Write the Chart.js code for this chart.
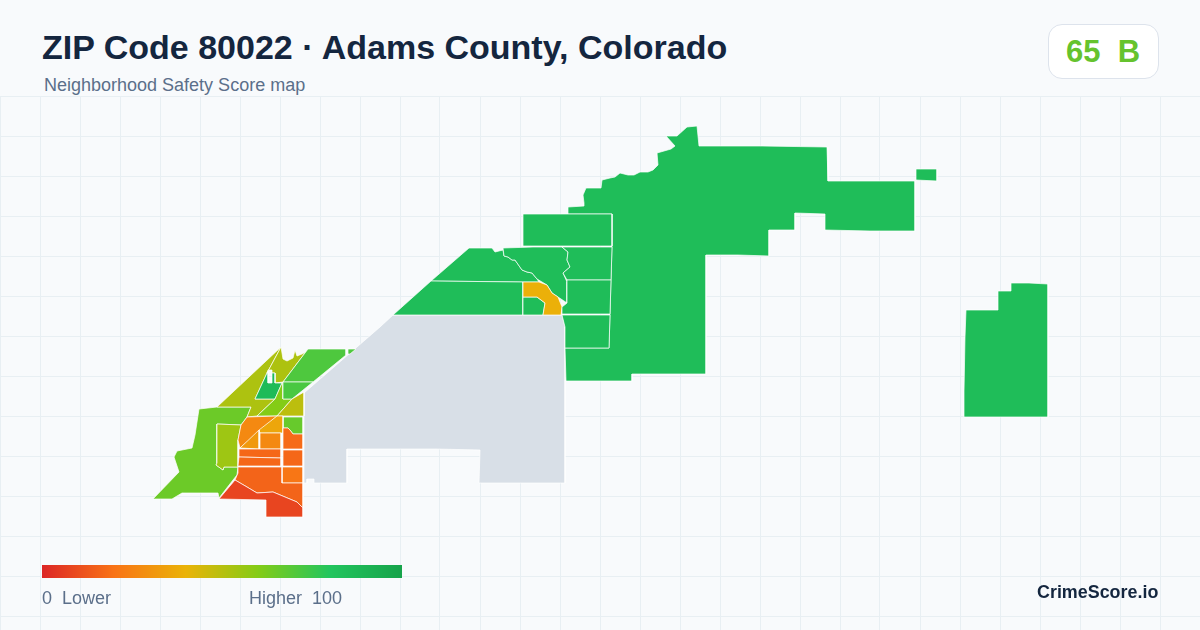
<!DOCTYPE html>
<html>
<head>
<meta charset="utf-8">
<script src="https://cdn.jsdelivr.net/npm/chart.js@4"></script>
<style>
  html, body { margin: 0; padding: 0; background: #f8fafc; }
  body { width: 1200px; height: 630px; position: relative; overflow: hidden; font-family: "Liberation Sans", Arial, sans-serif; }
  canvas { position: absolute; left: 0; top: 96px; }
  .txt { position: absolute; white-space: pre; line-height: 1; }
  #title { left: 42px; top: 30px; font-size: 34px; font-weight: bold; color: #14263f; }
  #subtitle { left: 44px; top: 76px; font-size: 18px; color: #5b6f8a; }
  #badge { position: absolute; left: 1048px; top: 24px; width: 109px; height: 53px; background: #fff; border: 1px solid #dde3ec; border-radius: 14px; }
  #grade { left: 1066px; top: 36px; font-size: 31px; font-weight: bold; color: #65c32e; }
  #scaleBar { position: absolute; left: 42px; top: 565px; width: 360px; height: 13px; }
  #low { left: 42px; top: 589px; font-size: 18px; color: #5b6f8a; }
  #high { left: 249px; top: 589px; font-size: 18px; color: #5b6f8a; }
  #brand { left: 1037px; top: 584px; font-size: 17.9px; font-weight: bold; color: #14263f; }
</style>
</head>
<body>
<canvas id="mapa" width="1200" height="534"></canvas>
<div class="txt" id="title">ZIP Code 80022 · Adams County, Colorado</div>
<div class="txt" id="subtitle">Neighborhood Safety Score map</div>
<div id="badge"></div>
<div class="txt" id="grade">65  B</div>
<div id="scaleBar"></div>
<div class="txt" id="low">0  Lower</div>
<div class="txt" id="high">Higher  100</div>
<div class="txt" id="brand">CrimeScore.io</div>
<script>
// --- scale ---
const scaleStops = [0, 20, 40, 60, 80, 100];
const scaleColors = ['#dc2626', '#f97316', '#eab308', '#84cc16', '#22c55e', '#16a34a'];
const noDataColor = '#d8dfe7';

// --- grid ---
const gridX = [0, 40, 80, 120, 160, 200, 240, 280, 320, 360, 400, 440, 480, 520, 560, 600, 640, 680, 720, 760, 800, 840, 880, 920, 960, 1000, 1040, 1080, 1120, 1160];
const gridY = [96, 136, 176, 216, 256, 296, 336, 376, 416, 456, 496, 536, 576, 616];

// --- tracts: score (null = no data) and outline, same order ---
const tractScores = [
    null, 85, 85, 85, 85, 85, 85, 85, 85, 85, 39, 85, 85,
    65, 55, 52, 52, 86, 60, 71, 72, 49, 66, 27, 36, 32, 27, 18, 17, 17, 17, 21, 16, 8, 71
];
const tractOutlines = [
    // sin datos
    [[380,327],[393,315],[562,315],[565,327],[565,483],[479,483],[480,450],[435,449],[347,449],[347,483],[314,483],[314,479],[307,479],[307,483],[304,483],[304,393]],
    // norte y este
    [[568,207],[584,206],[584,203],[583,195],[586,188],[601,188],[602,180],[610,178],[615,177],[620,173],[628,175],[634,175],[640,172],[648,172],[653,170],[658,165],[657,153],[671,149],[675,146],[666,136],[677,136],[687,127],[697,126],[699,146],[762,146],[827,147],[828,181],[915,181],[915,231],[870,231],[825,230],[825,214],[795,213],[795,230],[769,230],[769,256],[738,255],[706,255],[706,374],[632,374],[632,381],[566,381],[565,348],[609,348],[610,314],[611,280],[612,246],[612,214],[568,214]],
    [[916,169],[937,169],[937,181],[916,180]],
    [[966,310],[998,310],[998,291],[1011,291],[1011,283],[1029,283],[1048,284],[1048,417],[1026,417],[1002,417],[982,417],[964,417],[964,391],[965,337]],
    [[523,214],[612,214],[612,246],[523,246]],
    [[431,281],[469,248],[492,248],[495,252],[503,250],[504,256],[508,257],[512,260],[515,260],[522,270],[527,272],[532,273],[537,279],[539,282],[523,282]],
    [[431,281],[523,282],[523,315],[393,315]],
    [[523,297],[537,297],[545,303],[543,315],[523,315]],
    [[503,248],[533,247],[562,247],[568,252],[567,260],[570,267],[563,273],[567,282],[567,303],[558,297],[552,293],[547,285],[537,279],[532,273],[527,272],[522,270],[515,260],[512,260],[508,257],[504,256]],
    [[562,247],[612,247],[611,280],[567,280],[563,273],[570,267],[567,260],[568,252]],
    // naranja
    [[523,282],[539,282],[547,285],[552,293],[558,297],[562,307],[561,315],[543,315],[545,303],[537,297],[523,297]],
    [[567,280],[611,280],[610,314],[562,314],[562,307],[567,303]],
    [[562,315],[610,315],[609,348],[565,348],[565,327]],
    // suroeste
    [[199,409],[217,407],[251,407],[247,417],[241,425],[217,424],[217,463],[216,465],[223,470],[224,467],[238,467],[237,475],[233,480],[219,498],[218,493],[182,493],[172,499],[153,499],[179,472],[174,457],[177,451],[192,448],[195,435]],
    [[217,424],[241,425],[238,440],[238,467],[224,467],[223,470],[216,465],[217,463]],
    [[217,407],[281,347],[267,373],[255,399],[275,399],[257,416],[247,417],[251,407]],
    [[281,347],[283,359],[287,361],[293,358],[295,350],[297,356],[302,354],[306,352],[308,349],[283,382],[275,383],[275,373],[272,373],[272,370],[268,370],[267,373]],
    [[267,373],[268,373],[268,383],[272,383],[272,373],[275,373],[275,383],[282,383],[275,399],[255,399]],
    [[283,382],[283,399],[292,399],[277,416],[257,416],[275,399],[282,383]],
    [[308,349],[346,349],[346,355],[313,382],[283,382]],
    [[283,382],[313,382],[292,399],[283,399]],
    [[304,392],[304,416],[277,416],[292,399]],
    [[283,417],[303,417],[303,434],[293,434],[290,430],[288,428],[283,428]],
    [[247,417],[277,416],[240,448],[238,440],[241,425]],
    [[277,416],[283,416],[283,433],[260,433],[259,430]],
    [[259,430],[259,449],[240,448]],
    [[260,433],[281,433],[281,449],[260,449]],
    [[283,428],[288,428],[290,430],[293,434],[303,434],[303,449],[283,449]],
    [[239,449],[281,449],[281,458],[239,457]],
    [[239,457],[281,458],[281,466],[238,466]],
    [[283,450],[303,450],[303,466],[283,466]],
    [[282,467],[303,467],[303,483],[282,483]],
    [[238,467],[282,467],[282,483],[303,483],[303,508],[297,502],[273,492],[257,493],[247,487],[235,480],[238,473]],
    [[235,480],[247,487],[257,493],[273,492],[297,502],[303,508],[303,517],[266,517],[266,500],[219,499]],
    [[348,349],[356,349],[350,354],[348,354]]
];

function hexToRgb(hex) {
    return [1, 3, 5].map(i => parseInt(hex.slice(i, i + 2), 16));
}

// color de la escala para un puntaje
function scoreColor(score) {
    if (score === null) return noDataColor;
    let i = 0;
    while (i < scaleStops.length - 2 && score > scaleStops[i + 1]) i++;
    const t = (score - scaleStops[i]) / (scaleStops[i + 1] - scaleStops[i]);
    const a = hexToRgb(scaleColors[i]);
    const b = hexToRgb(scaleColors[i + 1]);
    const c = a.map((v, k) => Math.round(v + (b[k] - v) * t));
    return `rgb(${c[0]}, ${c[1]}, ${c[2]})`;
}

document.getElementById('scaleBar').style.background =
    'linear-gradient(to right, ' + scaleColors.map((c, i) => `${c} ${scaleStops[i]}%`).join(', ') + ')';

const datasets = tractOutlines.map((outline, i) => ({
    label: 'Tract ' + (i + 1),
    data: outline.concat([outline[0]]).map(p => ({ x: p[0], y: p[1] })),
    showLine: true,
    fill: 'shape',
    backgroundColor: scoreColor(tractScores[i]),
    borderColor: '#ffffff',
    borderWidth: 0.7,
    pointRadius: 0,
    tension: 0,
    order: tractOutlines.length - i
}));

new Chart(document.getElementById('mapa').getContext('2d'), {
    type: 'scatter',
    data: { datasets: datasets },
    options: {
        responsive: false,
        animation: false,
        devicePixelRatio: 1,
        layout: { padding: 0 },
        plugins: { legend: { display: false }, tooltip: { enabled: false } },
        scales: {
            x: {
                type: 'linear', min: 0, max: 1200,
                afterBuildTicks: s => { s.ticks = gridX.map(v => ({ value: v })); },
                grid: { color: '#e8eff3', lineWidth: 1, drawTicks: false },
                border: { display: false },
                ticks: { display: false }
            },
            y: {
                type: 'linear', min: 96, max: 630, reverse: true,
                afterBuildTicks: s => { s.ticks = gridY.map(v => ({ value: v })); },
                grid: { color: '#e8eff3', lineWidth: 1, drawTicks: false },
                border: { display: false },
                ticks: { display: false }
            }
        }
    }
});
</script>
</body>
</html>
